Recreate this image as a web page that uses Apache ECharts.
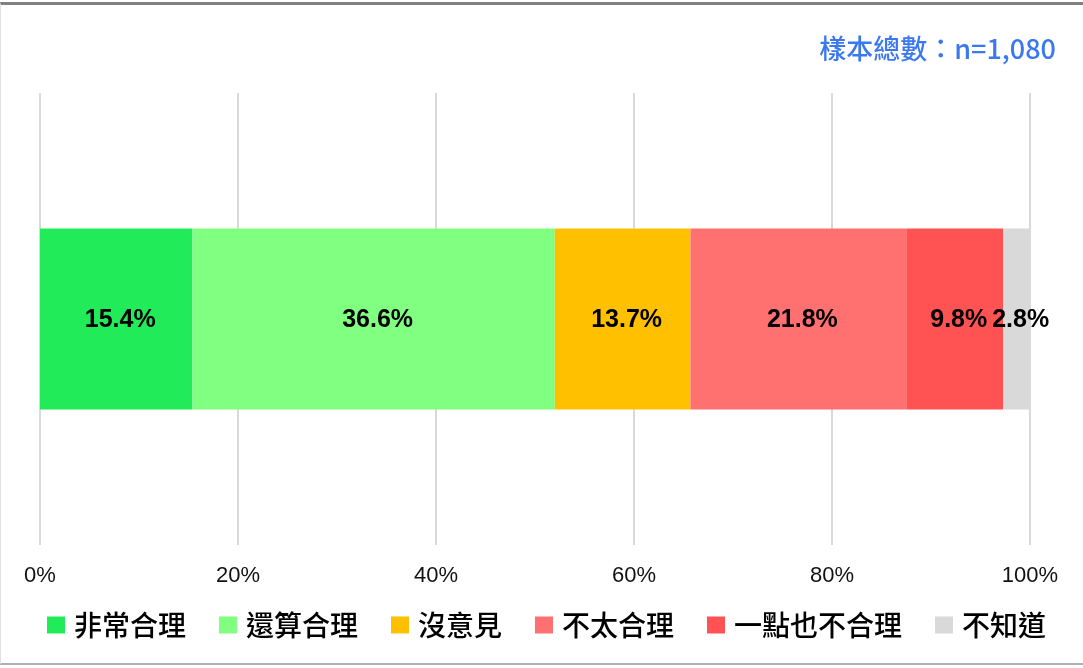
<!DOCTYPE html>
<html>
<head>
<meta charset="utf-8">
<script src="https://cdn.jsdelivr.net/npm/echarts@6/dist/echarts.min.js"></script>
<style>
  html, body { margin: 0; padding: 0; background: #fff; }
  #frame { position: absolute; left: 0; top: 2px; width: 1083px; height: 663px; box-sizing: border-box;
           border-top: 3px solid #808080; border-left: 1px solid #e0e0e0; border-bottom: 2px solid #b0b0b0; }
  #chart { position: absolute; left: 0; top: 0; width: 1083px; height: 668px; }
</style>
</head>
<body>
<div id="frame"></div>
<div id="chart"></div>
<script>
const categories = ['整體'];
const seriesNames = ['非常合理', '還算合理', '沒意見', '不太合理', '一點也不合理', '不知道'];
const seriesValues = [15.4, 36.6, 13.7, 21.8, 9.8, 2.8];
const seriesColors = ['#22EB5A', '#80FF80', '#FFC000', '#FF7070', '#FF5252', '#D9D9D9'];
const xTicks = [0, 20, 40, 60, 80, 100];
const sampleText = '樣本總數：n=1,080';

const chart = echarts.init(document.getElementById('chart'), null, { renderer: 'canvas' });
const latin = '"Liberation Sans", Arial, "Noto Sans CJK TC", sans-serif';
const cjk = '"Noto Sans CJK TC", "Liberation Sans", sans-serif';

const option = {
  backgroundColor: 'transparent',
  animation: false,
  title: {
    text: sampleText,
    right: 22,
    top: 30,
    textStyle: { color: '#3B78F0', fontSize: 27, fontWeight: 500, fontFamily: cjk }
  },
  grid: { left: 40, right: 53, top: 93, bottom: 123, containLabel: false },
  xAxis: {
    type: 'value',
    min: xTicks[0],
    max: xTicks[xTicks.length - 1],
    interval: 20,
    axisLine: { show: false },
    axisTick: { show: false },
    axisLabel: { formatter: '{value}%', color: '#111', fontSize: 22, margin: 20, fontFamily: latin },
    splitLine: { show: true, lineStyle: { color: '#D9D9D9', width: 2 } }
  },
  yAxis: {
    type: 'category',
    data: categories,
    axisLine: { show: false },
    axisTick: { show: false },
    axisLabel: { show: false }
  },
  legend: {
    bottom: 24,
    left: 42,
    itemWidth: 18,
    itemHeight: 17,
    itemGap: 33,
    icon: 'rect',
    textStyle: { color: '#000', fontSize: 28, fontWeight: 500, fontFamily: cjk, padding: [0, 0, 0, 4] },
    data: seriesNames
  },
  series: seriesNames.map((name, i) => ({
    name: name,
    type: 'bar',
    stack: 'total',
    barWidth: '40%',
    data: [seriesValues[i]],
    itemStyle: { color: seriesColors[i] },
    label: {
      show: true,
      position: 'inside',
      offset: [4, 1],
      formatter: p => p.value.toFixed(1) + '%',
      color: '#000',
      fontSize: 25,
      fontWeight: 'bold',
      fontFamily: latin
    }
  }))
};
chart.setOption(option);
</script>
</body>
</html>
